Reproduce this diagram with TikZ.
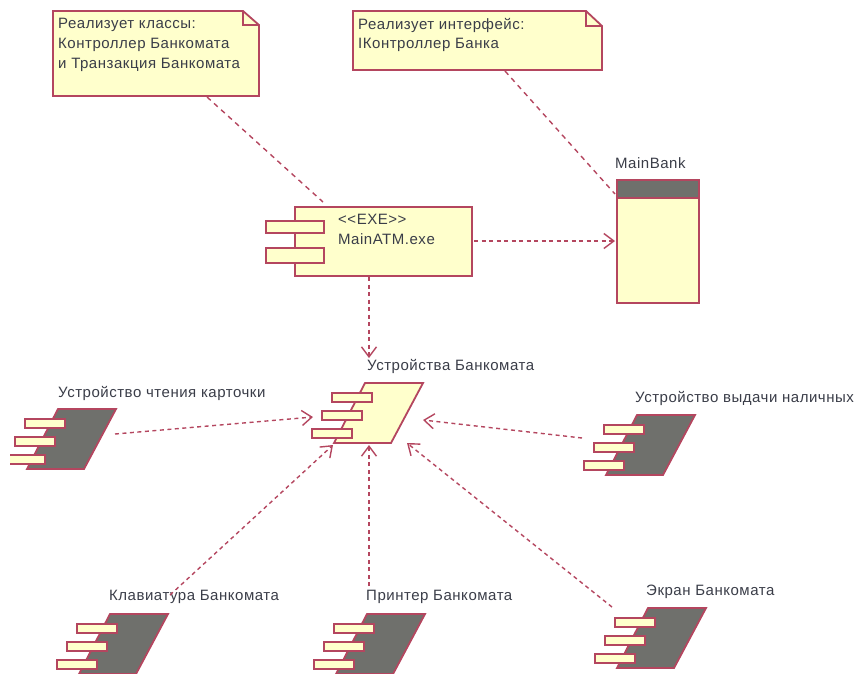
\documentclass[tikz,border=0pt]{standalone}
\usepackage{fontspec}
\setmainfont[LetterSpace=3.5]{Liberation Sans}
\usetikzlibrary{arrows.meta}
\definecolor{umlline}{HTML}{B4465F}
\definecolor{umlfill}{HTML}{FFFFCC}
\definecolor{umlgrey}{HTML}{6F706C}
\definecolor{umltext}{HTML}{3A3D48}
\tikzset{
  x=1pt,y=-1pt,
  shapeline/.style={draw=umlline,line width=1.8pt,line join=miter},
  lbl/.style={text=umltext,font=\fontsize{15}{18}\selectfont,inner sep=0pt,anchor=west},
  dep/.style={draw=umlline,line width=1.4pt,dash pattern=on 4pt off 3.5pt,-{Straight Barb[length=10pt,width=15pt,line width=1.4pt]}},
  anchorline/.style={draw=umlline,line width=1.4pt,dash pattern=on 5pt off 4.5pt}
}
\newcommand{\devicon}[3]{% x,y (top-left of parallelogram), body fill
  \fill[#3] (#1,#2) -- ++(58,0) -- ++(-32,60) -- ++(-57,0) -- cycle;
  \draw[shapeline] (#1,#2) -- ++(58,0) -- ++(-32,60) -- ++(-57,0) -- cycle;
  \foreach \dx/\dy in {-33/10,-43/28,-53/46}{
    \draw[shapeline,fill=umlfill] (#1+\dx,#2+\dy) rectangle ++(40,9);
  }
}
\begin{document}
\begin{tikzpicture}
\useasboundingbox (0,0) rectangle (858,673);
% notes
\draw[shapeline,fill=umlfill] (53,11) -- (243,11) -- (259,25) -- (259,96) -- (53,96) -- cycle;
\draw[shapeline] (243,11) -- (243,25) -- (259,25);
\node[lbl] at (58,25) {Реализует классы:};
\node[lbl] at (58,45) {Контроллер Банкомата};
\node[lbl] at (58,65) {и Транзакция Банкомата};
\draw[shapeline,fill=umlfill] (353,11) -- (586,11) -- (602,26) -- (602,70) -- (353,70) -- cycle;
\draw[shapeline] (586,11) -- (586,26) -- (602,26);
\node[lbl] at (358,25) {Реализует интерфейс:};
\node[lbl] at (358,45) {IКонтроллер Банка};
\coordinate (note1) at (207,97);
\coordinate (note2) at (505,71);
% component
\draw[shapeline,fill=umlfill] (295,207) rectangle (472,276);
\draw[shapeline,fill=umlfill] (266,221) rectangle (324,233);
\draw[shapeline,fill=umlfill] (266,248) rectangle (324,263);
\node[lbl] at (338,219) {<{}<EXE>{}>};
\node[lbl] at (338,239) {MainATM.exe};
\coordinate (atmtop) at (323,202);
\coordinate (atmright) at (474,241);
\coordinate (atmbottom) at (369,277);
% MainBank
\draw[shapeline,fill=umlfill] (617,180) rectangle (699,303);
\draw[shapeline,fill=umlgrey] (617,180) rectangle (699,198);
\node[lbl] at (615,163) {MainBank};
\coordinate (bankleft) at (615,241);
\coordinate (banknote) at (615,194);
% devices
\devicon{365}{383}{umlfill}
\devicon{58}{409}{umlgrey}
\devicon{637}{415}{umlgrey}
\devicon{110}{614}{umlgrey}
\devicon{367}{614}{umlgrey}
\devicon{648}{608}{umlgrey}
\fill[white] (0,440) rectangle (10,480);
\node[lbl] at (367,366) {Устройства Банкомата};
\node[lbl] at (58,393) {Устройство чтения карточки};
\node[lbl] at (635,398) {Устройство выдачи наличных};
\node[lbl] at (109,597) {Клавиатура Банкомата};
\node[lbl] at (366,597) {Принтер Банкомата};
\node[lbl] at (646,592) {Экран Банкомата};
\coordinate (devtop) at (369,358);
\coordinate (devL) at (313,417);
\coordinate (devR) at (423,420);
\coordinate (devBL) at (333,445);
\coordinate (devB) at (369,445);
\coordinate (devBR) at (407,443);
\coordinate (cardout) at (115,434);
\coordinate (cashout) at (582,438);
\coordinate (keysout) at (170,595);
\coordinate (prnout) at (369,586);
\coordinate (scrout) at (612,607);
% connectors
\draw[anchorline] (note1) -- (atmtop);
\draw[anchorline] (note2) -- (banknote);
\draw[dep] (atmright) -- (bankleft);
\draw[dep] (atmbottom) -- (devtop);
\draw[dep] (cardout) -- (devL);
\draw[dep] (cashout) -- (devR);
\draw[dep] (keysout) -- (devBL);
\draw[dep] (prnout) -- (devB);
\draw[dep] (scrout) -- (devBR);
\end{tikzpicture}
\end{document}
